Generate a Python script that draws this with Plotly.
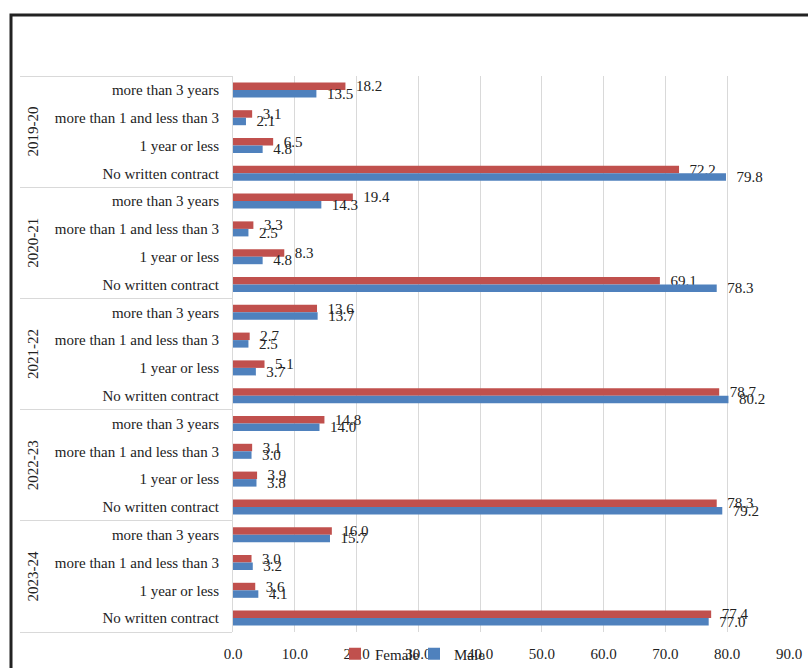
import plotly.graph_objects as go

years = ["2019-20", "2020-21", "2021-22", "2022-23", "2023-24"]
contracts = ["more than 3 years", "more than 1 and less than 3", "1 year or less", "No written contract"]

female = [
    [18.2, 3.1, 6.5, 72.2],
    [19.4, 3.3, 8.3, 69.1],
    [13.6, 2.7, 5.1, 78.7],
    [14.8, 3.1, 3.9, 78.3],
    [16.0, 3.0, 3.6, 77.4],
]
male = [
    [13.5, 2.1, 4.8, 79.8],
    [14.3, 2.5, 4.8, 78.3],
    [13.7, 2.5, 3.7, 80.2],
    [14.0, 3.0, 3.8, 79.2],
    [15.7, 3.2, 4.1, 77.0],
]
x_ticks = [0, 10, 20, 30, 40, 50, 60, 70, 80, 90]

# outer category level: invisible placeholder labels (year names drawn rotated as annotations)
group_keys = ["\u00a0" * (5 + i) for i in range(len(years))]
lvl0 = [g for g in group_keys for _ in contracts]
lvl1 = [c for _ in years for c in contracts]
f_vals = [v for row in female for v in row]
m_vals = [v for row in male for v in row]

FONT = "Liberation Serif, Times New Roman, serif"
TXT = "#222222"

fig = go.Figure()
for name, vals, color in [("Female", f_vals, "#C0504D"), ("Male", m_vals, "#4F81BD")]:
    fig.add_trace(go.Bar(
        name=name, orientation="h", x=vals, y=[lvl0, lvl1],
        marker=dict(color=color, line=dict(width=0)),
        texttemplate="\u00a0\u00a0%{x:.1f}", textposition="outside", constraintext="none",
        textfont=dict(family=FONT, size=15, color=TXT), cliponaxis=False,
    ))

n_per = len(contracts)
annotations = [
    dict(text=yr, xref="paper", x=(33 - 233) / 556, xanchor="center",
         yref="y", y=i * n_per + (n_per - 1) / 2, yanchor="middle",
         textangle=-90, showarrow=False, font=dict(family=FONT, size=15, color=TXT))
    for i, yr in enumerate(years)
]

fig.update_layout(
    width=808, height=668,
    margin=dict(l=233, r=19, t=76, b=36, autoexpand=False),
    paper_bgcolor="white", plot_bgcolor="white",
    barmode="group", bargap=0.46, bargroupgap=0,
    font=dict(family=FONT, size=15, color=TXT),
    showlegend=True,
    legend=dict(orientation="h", xref="paper", x=(335 - 233) / 556, xanchor="left",
                yref="paper", y=-(654 - 632) / 556, yanchor="middle",
                font=dict(family=FONT, size=15, color=TXT),
                bgcolor="rgba(0,0,0,0)", itemwidth=30, tracegroupgap=0,
                entrywidth=34, entrywidthmode="pixels"),
    xaxis=dict(range=[0, 90], tickvals=x_ticks, ticktext=[f"{v:.1f}" for v in x_ticks],
               showgrid=True, gridcolor="#D9D9D9", gridwidth=1, zeroline=False,
               showline=False, ticks="outside", ticklen=8, tickcolor="rgba(0,0,0,0)",
               tickfont=dict(family=FONT, size=15, color=TXT)),
    yaxis=dict(type="multicategory", range=[len(lvl1) - 0.5, -0.5], showline=True, linecolor="#D9D9D9",
               showdividers=True, dividercolor="#D9D9D9", dividerwidth=1,
               ticks="", ticklabelstandoff=10, tickangle=0,
               tickfont=dict(family=FONT, size=15, color=TXT), showgrid=False),
    annotations=annotations,
    shapes=[dict(type="rect", xref="paper", yref="paper",
                 x0=(11 - 233) / 556, x1=(900 - 233) / 556,
                 y0=-200 / 556, y1=(668 - 36 - 15) / 556,
                 line=dict(color="#222", width=3), fillcolor="rgba(0,0,0,0)")],
)

fig.write_html("out.html")
